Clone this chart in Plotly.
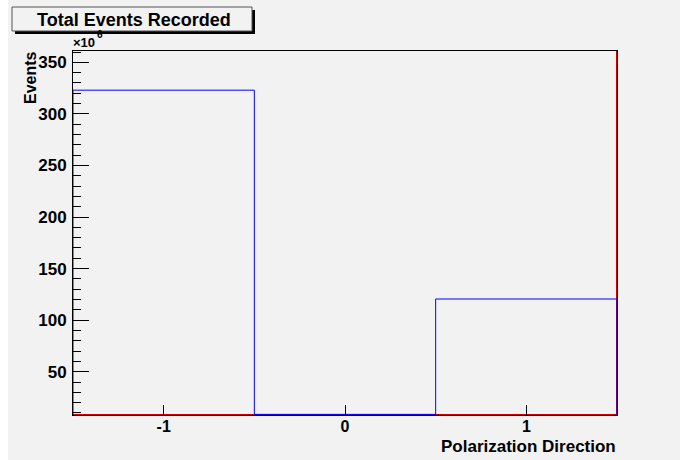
import plotly.graph_objects as go

# ---- data (values in units of 10^6 events) ----
bin_edges = [-1.5, -0.5, 0.5, 1.5]
bin_values = [323.0, 8.6, 120.5]
red_edges = [-1.5, 1.5]
red_values = [0.0]
y_ticks = [50, 100, 150, 200, 250, 300, 350]
x_ticks = [-1, 0, 1]
x_tick_labels = ["-1", "0", "1"]
title_text = "Total Events Recorded"
x_title = "Polarization Direction"
y_title = "Events"
scale_base = "×10"
scale_exp = "6"

Y_MIN, Y_MAX = 8.0, 361.0

# build step outline from bin edges/values
sx, sy = [bin_edges[0]], [Y_MIN]
for i, v in enumerate(bin_values):
    sx += [bin_edges[i], bin_edges[i + 1]]
    sy += [v, v]
sx.append(bin_edges[-1]); sy.append(Y_MIN)

rx, ry = [], []
for i, v in enumerate(red_values):
    vv = max(v, Y_MIN)
    rx += [red_edges[i], red_edges[i + 1]]
    ry += [vv, vv]
rx.append(red_edges[-1]); ry.append(Y_MAX)

GREY = "#f2f2f2"
FONT = "Liberation Sans"

fig = go.Figure()
fig.add_trace(go.Scatter(x=rx, y=ry, mode="lines",
                         line=dict(color="#cc0000", width=2),
                         hoverinfo="skip", showlegend=False))
fig.add_trace(go.Scatter(x=sx, y=sy, mode="lines",
                         line=dict(color="#0000ff", width=1),
                         hoverinfo="skip", showlegend=False))

L, R, T, B = 73, 63, 51, 45
W, H = 680, 460
PW, PH = W - L - R, H - T - B

def px(x):
    return (x - L) / PW

def py(y):
    return (H - B - y) / PH

shapes = [
    # white strip at left edge of canvas
    dict(type="rect", xref="paper", yref="paper", x0=px(-5), x1=px(8),
         y0=py(470), y1=py(-10), fillcolor="white", line=dict(width=0), layer="below"),
    # title shadow
    dict(type="rect", xref="paper", yref="paper", x0=px(15), x1=px(255),
         y0=py(34), y1=py(10), fillcolor="black", line=dict(width=0)),
    # title box
    dict(type="rect", xref="paper", yref="paper", x0=px(12), x1=px(252),
         y0=py(31), y1=py(7), fillcolor=GREY, line=dict(color="#555555", width=1)),
]

annotations = [
    dict(text=title_text, xref="paper", yref="paper", x=px(134), y=py(19.5),
         xanchor="center", yanchor="middle", showarrow=False,
         font=dict(family=FONT, size=18, color="black", weight="bold")),
    dict(text=scale_base, xref="paper", yref="paper", x=px(71), y=py(52),
         xanchor="left", yanchor="bottom", showarrow=False,
         font=dict(family=FONT, size=13, color="black", weight="bold")),
    dict(text=scale_exp, xref="paper", yref="paper", x=px(95), y=py(42),
         xanchor="left", yanchor="bottom", showarrow=False,
         font=dict(family=FONT, size=10, color="black", weight="bold")),
    dict(text=y_title, xref="paper", yref="paper", x=px(30.5), y=py(49),
         xanchor="center", yanchor="top", textangle=-90, showarrow=False,
         font=dict(family=FONT, size=16, color="black", weight="bold")),
    dict(text=x_title, xref="paper", yref="paper", x=px(618), y=py(447),
         xanchor="right", yanchor="middle", showarrow=False,
         font=dict(family=FONT, size=17, color="black", weight="bold")),
]

fig.update_layout(
    width=W, height=H,
    margin=dict(l=L, r=R, t=T, b=B, pad=0),
    paper_bgcolor=GREY, plot_bgcolor=GREY,
    shapes=shapes, annotations=annotations,
    font=dict(family=FONT, color="black"),
    xaxis=dict(range=[bin_edges[0], bin_edges[-1]], tickvals=x_ticks,
               ticktext=x_tick_labels, ticks="inside", ticklen=10,
               tickcolor="black", tickwidth=1, showgrid=False, zeroline=False,
               showline=True, linecolor="black", linewidth=1, mirror=True,
               tickfont=dict(family=FONT, size=16, color="black", weight="bold"),
               ticklabelstandoff=-3),
    yaxis=dict(range=[Y_MIN, Y_MAX], tickvals=y_ticks, ticks="inside",
               ticklen=16, tickcolor="black", tickwidth=1, showgrid=False,
               zeroline=False, showline=True, linecolor="black", linewidth=1,
               mirror=True,
               minor=dict(dtick=10, tick0=0, ticks="inside", ticklen=8,
                          tickcolor="black", showgrid=False),
               tickfont=dict(family=FONT, size=17, color="black", weight="bold"),
               ticklabelstandoff=2),
)

fig.write_html("out.html", config={"displayModeBar": False},
               post_script="document.body.style.margin='0';document.body.style.padding='0';")
